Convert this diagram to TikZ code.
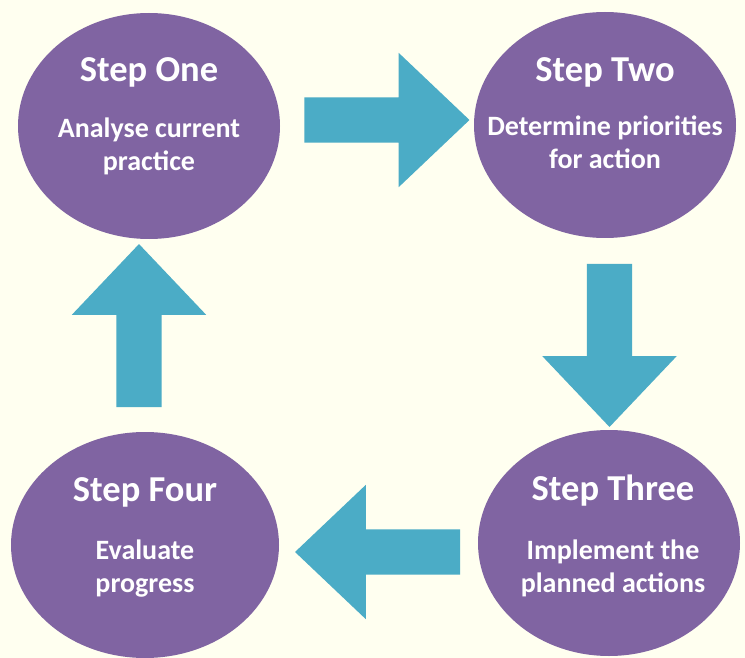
\documentclass[tikz,border=0pt]{standalone}
\usepackage{fontspec}
\setmainfont{Carlito}
\usetikzlibrary{shapes.arrows,shapes.geometric}
\definecolor{steppurple}{RGB}{128,100,162}
\definecolor{flowcyan}{RGB}{75,172,198}
\definecolor{paper}{RGB}{255,255,240}

\begin{document}
\begin{tikzpicture}[x=1pt,y=-1pt,
	stepbox/.style={ellipse,fill=steppurple,minimum width=262pt,minimum height=226pt,inner sep=0pt},
	steptitle/.style={anchor=base,text=white,font=\bfseries\fontsize{36.5}{40}\selectfont,inner sep=0pt},
	stepbody/.style={anchor=base,text=white,align=center,font=\bfseries\fontsize{28}{33}\selectfont,inner sep=0pt},
	flow/.style={single arrow,fill=flowcyan,minimum height=165pt,inner xsep=0pt,inner ysep=22.5pt,
		single arrow head extend=44.5pt,single arrow tip angle=87}]
		\fill[paper] (0,0) rectangle (745,658);
		\useasboundingbox (0,0) rectangle (745,658);

		\node[stepbox] (one) at (149,126) {};
		\node[stepbox] (two) at (605,125) {};
		\node[stepbox] (three) at (609,543) {};
		\node[stepbox,minimum width=268pt] (four) at (145,545) {};

		\node[steptitle] (one title) at ([yshift=44pt]one.center) {Step One};
		\node[stepbody] (one body) at ([yshift=-45pt]one.center) {Analyse current\\practice};

		\node[steptitle] (two title) at ([yshift=43pt]two.center) {Step Two};
		\node[stepbody] (two body) at ([yshift=-44pt]two.center) {Determine priorities\\for action};

		\node[steptitle] (three title) at ([xshift=4pt,yshift=43pt]three.center) {Step Three};
		\node[stepbody] (three body) at ([xshift=4pt,yshift=-49pt]three.center) {Implement the\\planned actions};

		\node[steptitle] (four title) at ([yshift=44pt]four.center) {Step Four};
		\node[stepbody] (four body) at ([yshift=-47pt]four.center) {Evaluate\\progress};

		% block arrows between the steps
		\node[flow] (one to two) at (375,120) {};
		\node[flow,rotate=-90,minimum height=163pt] (two to three) at (609.5,333.5) {};
		\node[flow,rotate=180] (three to four) at (389.5,552) {};
		\node[flow,rotate=90,minimum height=163pt] (four to one) at (139,337.5) {};
\end{tikzpicture}
\end{document}
